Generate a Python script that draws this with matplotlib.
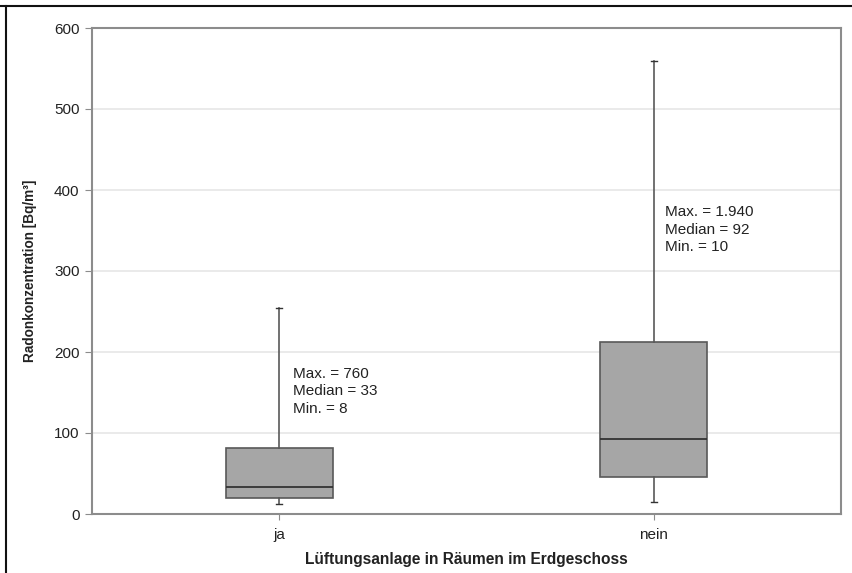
import matplotlib
matplotlib.use("Agg")
import matplotlib.pyplot as plt
from matplotlib.lines import Line2D

categories = ["ja", "nein"]
whisker_low = [12, 15]
q1 = [20, 46]
medians = [33, 92]
q3 = [82, 212]
whisker_high = [254, 559]
labels_text = ["Max. = 760\nMedian = 33\nMin. = 8",
               "Max. = 1.940\nMedian = 92\nMin. = 10"]
label_top = [182, 381]
label_dx = [0.038, 0.03]

plt.rcParams['font.family'] = ['Liberation Sans', 'DejaVu Sans']

fig = plt.figure(figsize=(8.53, 5.73), dpi=100)
ax = fig.add_axes([92/853, 59/573, (841-92)/853, (514-28)/573])

stats = []
for i, c in enumerate(categories):
    stats.append(dict(label=c, whislo=whisker_low[i], q1=q1[i], med=medians[i],
                      q3=q3[i], whishi=whisker_high[i], fliers=[]))

positions = [1, 2]
ax.bxp(stats, positions=positions, widths=0.287, patch_artist=True,
       showfliers=False,
       boxprops=dict(facecolor="#a6a6a6", edgecolor="#595959", linewidth=1.2),
       medianprops=dict(color="#333333", linewidth=1.3),
       whiskerprops=dict(color="#595959", linewidth=1.2),
       capprops=dict(color="#333333", linewidth=1.0), capwidths=0.015)

ax.set_xlim(0.5, 2.5)
ax.set_ylim(0, 600)
ax.set_yticks(range(0, 601, 100))
ax.yaxis.grid(True, color="#e6e6e6", linewidth=1.2)
ax.set_axisbelow(True)
for s in ax.spines.values():
    s.set_color("#8c8c8c")
    s.set_linewidth(1.5)
ax.tick_params(axis="y", length=5, color="#8c8c8c", labelsize=11, labelcolor="#222222", pad=4)
ax.tick_params(axis="x", length=4, color="#8c8c8c", labelsize=11, labelcolor="#222222", pad=6)
ax.set_xticks(positions)
ax.set_xticklabels(categories)

ax.set_ylabel("Radonkonzentration [Bq/m³]", fontsize=9.8, fontweight="bold", color="#222222", labelpad=12)
ax.set_xlabel("Lüftungsanlage in Räumen im Erdgeschoss", fontsize=11.2, fontweight="bold", color="#222222", labelpad=7)

for i, t in enumerate(labels_text):
    ax.text(positions[i] + label_dx[i], label_top[i], t, fontsize=11, color="#222222",
            va="top", ha="left", linespacing=1.32)

# outer frame lines (top and left)
fig.add_artist(Line2D([0, 1], [1 - 6/573, 1 - 6/573], transform=fig.transFigure, color="#111111", linewidth=1.5))
fig.add_artist(Line2D([6/853, 6/853], [0, 1 - 6/573], transform=fig.transFigure, color="#111111", linewidth=1.5))

fig.savefig("out.png", dpi=100)
